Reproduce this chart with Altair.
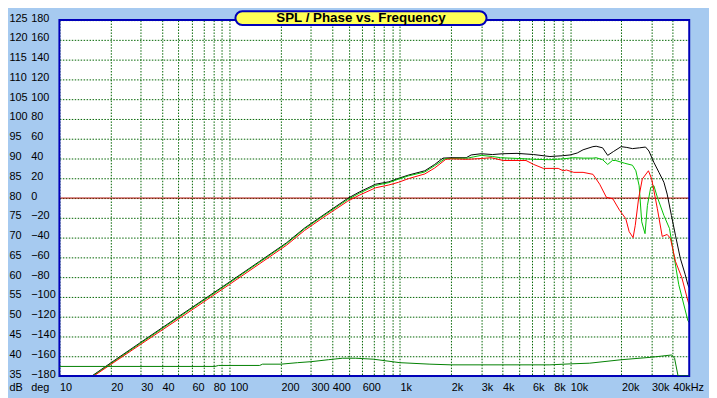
import altair as alt
import pandas as pd

# ---------------- data ----------------
black_freq = [15.5, 20, 30, 50, 100, 150, 216, 275, 369, 493, 576, 720, 860, 983, 1120,
              1400, 1600, 1790, 2000, 2450, 2620, 3000, 3500, 4000, 4870, 6100, 7600,
              9000, 10000, 11000, 11900, 13600, 14200, 15500, 16600, 18000, 19900,
              21500, 23200, 25500, 27700, 29000, 31000, 33200, 35500, 37100, 39300,
              41500, 44300, 47400, 49100, 50000]
black_db = [35.0, 38.3, 43.5, 50.0, 58.8, 64.0, 68.7, 72.4, 76.2, 79.9, 81.5, 83.5, 84.1,
            85.0, 85.8, 86.9, 88.5, 90.1, 90.2, 90.2, 90.9, 91.2, 91.0, 91.2, 91.3, 91.0,
            90.5, 90.7, 90.9, 91.4, 92.2, 93.0, 93.1, 92.7, 90.8, 91.8, 93.0, 92.8, 92.5,
            92.7, 92.9, 91.9, 89.0, 86.5, 84.0, 81.0, 75.6, 70.6, 64.8, 60.6, 58.1, 57.3]

green_freq = [15.7, 20, 30, 50, 100, 150, 216, 275, 369, 493, 576, 720, 860, 983, 1120,
              1400, 1600, 1850, 2000, 2500, 2700, 3000, 3500, 3900, 5000, 6100, 7600,
              9000, 10500, 12000, 13600, 14200, 15500, 16600, 17700, 18500, 20900,
              23200, 24300, 25400, 26300, 27500, 28400, 29700, 31000, 32500, 35500,
              38300, 40600, 43400, 49100, 50000]
green_db = [35.0, 38.1, 43.3, 49.8, 58.6, 63.8, 68.5, 72.2, 76.0, 79.6, 81.2, 83.2, 83.9,
            84.8, 85.6, 86.6, 88.2, 90.0, 90.0, 90.1, 90.4, 90.8, 90.5, 90.2, 90.0, 89.8,
            89.7, 89.9, 90.2, 90.1, 90.1, 90.2, 89.7, 88.5, 89.5, 89.5, 88.8, 88.3, 86.9,
            83.1, 74.0, 71.0, 78.1, 82.7, 83.1, 80.2, 75.6, 72.3, 65.6, 58.1, 49.0, 48.5]

red_freq = [15.9, 20, 30, 50, 100, 150, 216, 275, 369, 493, 576, 720, 860, 983, 1120,
            1400, 1600, 1860, 2000, 2490, 3000, 3430, 4040, 5500, 6100, 6960, 8500,
            9100, 9500, 10500, 11900, 13600, 14900, 16300, 17800, 19500, 21200, 22200,
            23400, 24100, 25200, 26500, 28800, 30100, 32500, 34700, 37100, 38800,
            41500, 45300, 49100, 50000]
red_db = [35.0, 37.9, 43.0, 49.4, 58.2, 63.4, 68.1, 71.8, 75.6, 79.2, 80.7, 82.6, 83.3,
          84.0, 84.9, 86.1, 87.6, 89.8, 89.9, 89.8, 90.0, 90.2, 89.5, 89.5, 88.5, 87.5,
          87.5, 86.9, 87.1, 86.5, 86.5, 86.0, 83.5, 80.2, 79.8, 76.9, 74.8, 71.5, 70.0,
          73.1, 79.8, 84.8, 86.9, 84.8, 77.3, 70.3, 70.8, 69.8, 64.0, 59.8, 54.0, 53.0]

phase_freq = [10, 82, 86, 150, 156, 200, 250, 300, 380, 460, 550, 700, 1000, 1500, 2000,
              7600, 10000, 13000, 20000, 30000, 39500, 41000, 43000, 50000]
phase_deg = [-170.3, -170.3, -169.3, -169.3, -168.0, -168.0, -166.5, -165.5, -163.5,
             -162.0, -162.0, -163.0, -166.5, -168.0, -168.7, -168.7, -167.7, -167.0,
             -163.5, -161.0, -158.7, -162.0, -180.0, -180.0]

zero_line_db = [80]

x_grid_values = [10, 20, 30, 40, 50, 60, 70, 80, 90,
                 100, 200, 300, 400, 500, 600, 700, 800, 900,
                 1000, 2000, 3000, 4000, 5000, 6000, 7000, 8000, 9000,
                 10000, 20000, 30000, 40000]
x_label_values = [10, 20, 30, 40, 60, 80, 100, 200, 300, 400, 600, 1000, 2000, 3000,
                  4000, 6000, 8000, 10000, 20000, 30000, 40000]
x_label_texts = ["10", "20", "30", "40", "60", "80", "100", "200", "300", "400", "600",
                 "1k", "2k", "3k", "4k", "6k", "8k", "10k", "20k", "30k", "40kHz"]
db_ticks = list(range(35, 126, 5))
deg_ticks = list(range(-180, 181, 20))

title_text = "SPL / Phase vs. Frequency"

# ---------------- styling ----------------
FONT = "Liberation Sans"
BG = "#A6CAF0"
BORDER = "#0000B8"
GRID = "#006400"
GRID_DASH = [1.5, 1.5]

label_expr = " : ".join(
    f"datum.value == {v} ? '{t}'" for v, t in zip(x_label_values, x_label_texts)
) + " : ''"

x_enc = alt.X(
    "freq:Q",
    scale=alt.Scale(type="log", domain=[10, 50000], nice=False),
    axis=alt.Axis(
        values=x_grid_values, labelExpr=label_expr, grid=True, gridColor=GRID,
        gridDash=GRID_DASH, gridWidth=1, ticks=False, tickSize=0, domain=False,
        labelAlign="left", labelBaseline="top", labelPadding=6, labelFont=FONT,
        labelFontSize=11, labelColor="black", labelFlush=False, labelOverlap=False,
        title=None,
    ),
)

y_db = alt.Y(
    "value:Q",
    scale=alt.Scale(domain=[35, 125], nice=False, zero=False),
    axis=alt.Axis(
        values=db_ticks, grid=True, gridColor=GRID, gridDash=GRID_DASH, gridWidth=1,
        ticks=False, tickSize=0, domain=False, orient="left",
        labelAlign="left", labelBaseline="middle", labelPadding=51, labelOffset=-2,
        labelFont=FONT, labelFontSize=11, labelColor="black",
        title="dB", titleAngle=0, titleAlign="left", titleBaseline="top",
        titleX=-51, titleY=366, titleFont=FONT, titleFontSize=11,
        titleFontWeight="normal", titleColor="black",
    ),
)

y_deg = alt.Y(
    "value:Q",
    scale=alt.Scale(domain=[-180, 180], nice=False, zero=False),
    axis=alt.Axis(
        values=deg_ticks, grid=False, ticks=False, tickSize=0, domain=False,
        orient="left", labelAlign="left", labelBaseline="middle", labelPadding=29,
        labelOffset=-2, labelFont=FONT, labelFontSize=11, labelColor="black",
        title="deg", titleAngle=0, titleAlign="left", titleBaseline="top",
        titleX=-29, titleY=366, titleFont=FONT, titleFontSize=11,
        titleFontWeight="normal", titleColor="black",
    ),
)


def series(freq, vals):
    return pd.DataFrame({"freq": freq, "value": vals})


zero_rule = alt.Chart(pd.DataFrame({"value": zero_line_db})).mark_rule(
    color="#B00000", strokeWidth=1
).encode(y=y_db)

black = alt.Chart(series(black_freq, black_db)).mark_line(
    color="black", strokeWidth=1, clip=True).encode(x=x_enc, y=y_db)
green = alt.Chart(series(green_freq, green_db)).mark_line(
    color="#00C000", strokeWidth=1, clip=True).encode(x=x_enc, y=y_db)
red = alt.Chart(series(red_freq, red_db)).mark_line(
    color="#FF0000", strokeWidth=1, clip=True).encode(x=x_enc, y=y_db)

dummy = pd.DataFrame({"d": [0]})
border = alt.Chart(dummy).mark_rect(
    fillOpacity=0, stroke=BORDER, strokeWidth=2
).encode(x=alt.value(0), x2=alt.value("width"), y=alt.value(0), y2=alt.value("height"))

title_box = alt.Chart(dummy).mark_rect(
    fill="#FFFF55", stroke=BORDER, strokeWidth=2, cornerRadius=7
).encode(x=alt.value(178), x2=alt.value(432), y=alt.value(-9), y2=alt.value(5))

title_label = alt.Chart(dummy).mark_text(
    text=title_text, font=FONT, fontSize=13.5, fontWeight="bold", color="black",
    align="center", baseline="middle"
).encode(x=alt.value(305), y=alt.value(-2))

db_group = alt.layer(zero_rule, black, green, red, border, title_box, title_label)

phase = alt.Chart(series(phase_freq, phase_deg)).mark_line(
    color="#008000", strokeWidth=1, clip=True).encode(x=x_enc, y=y_deg)

chart = alt.layer(db_group, phase).resolve_scale(y="independent").properties(
    width=637,
    height=360,
    autosize=alt.AutoSizeParams(type="none"),
    padding={"left": 52, "top": 10, "right": 20, "bottom": 20},
).configure(background=BG).configure_view(fill="white", stroke="transparent")

chart.save("out.html", embed_options={"renderer": "svg", "actions": False})
